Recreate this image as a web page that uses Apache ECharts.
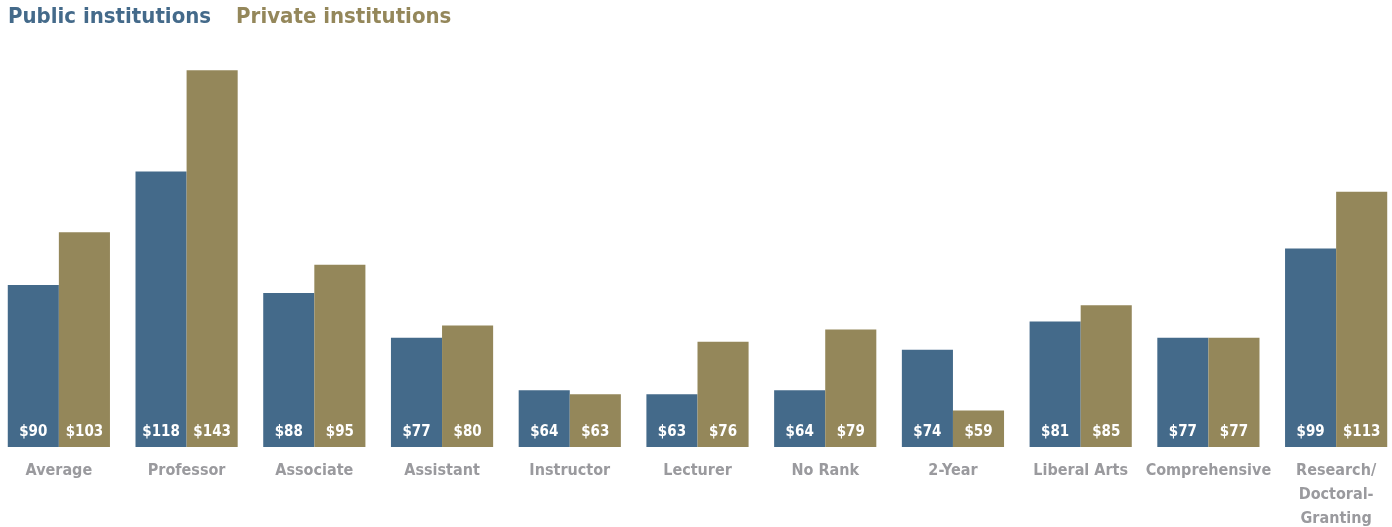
<!DOCTYPE html>
<html>
<head>
<meta charset="utf-8">
<script src="https://cdn.jsdelivr.net/npm/echarts@6/dist/echarts.min.js"></script>
<style>
  html, body { margin: 0; padding: 0; background: #fff; }
  #chart { width: 1392px; height: 527px; }
</style>
</head>
<body>
<div id="chart"></div>
<script>
  var categories = ['Average', 'Professor', 'Associate', 'Assistant', 'Instructor', 'Lecturer',
    'No Rank', '2-Year', 'Liberal Arts', 'Comprehensive', 'Research/\nDoctoral-\nGranting'];
  var publicValues = [90, 118, 88, 77, 64, 63, 64, 74, 81, 77, 99];
  var privateValues = [103, 143, 95, 80, 63, 76, 79, 59, 85, 77, 113];

  var font = '"DejaVu Sans Condensed", "Liberation Sans Narrow", sans-serif';
  var blue = '#446a8a';
  var khaki = '#94875a';

  var chart = echarts.init(document.getElementById('chart'));

  var valueLabel = {
    show: true,
    position: 'insideBottom',
    distance: 7,
    color: '#fff',
    fontFamily: font,
    fontWeight: 'bold',
    fontSize: 15,
    formatter: function (p) { return '$' + p.value; }
  };

  var option = {
    animation: false,
    legend: {
      left: 3,
      top: 6,
      padding: 0,
      icon: 'none',
      itemWidth: 0,
      itemHeight: 0,
      itemGap: 20,
      selectedMode: false,
      data: [
        { name: 'Public institutions', textStyle: { color: blue } },
        { name: 'Private institutions', textStyle: { color: khaki } }
      ],
      textStyle: {
        fontFamily: font,
        fontWeight: 'bold',
        fontSize: 22,
        padding: 0
      }
    },
    grid: {
      left: -5,
      width: 1405,
      top: 42,
      bottom: 80,
      outerBoundsMode: 'none',
      containLabel: false
    },
    xAxis: {
      type: 'category',
      data: categories,
      axisLine: { show: false },
      axisTick: { show: false },
      axisLabel: {
        margin: 12,
        color: '#9a9a9e',
        fontFamily: font,
        fontWeight: 'bold',
        fontSize: 16,
        lineHeight: 24,
        interval: 0
      }
    },
    yAxis: {
      type: 'value',
      min: 50,
      max: 150,
      show: false,
      splitLine: { show: false }
    },
    series: [
      {
        name: 'Public institutions',
        type: 'bar',
        data: publicValues,
        barGap: '0%',
        barCategoryGap: '20%',
        itemStyle: { color: blue },
        label: valueLabel
      },
      {
        name: 'Private institutions',
        type: 'bar',
        data: privateValues,
        itemStyle: { color: khaki },
        label: valueLabel
      }
    ]
  };

  chart.setOption(option);
</script>
</body>
</html>
